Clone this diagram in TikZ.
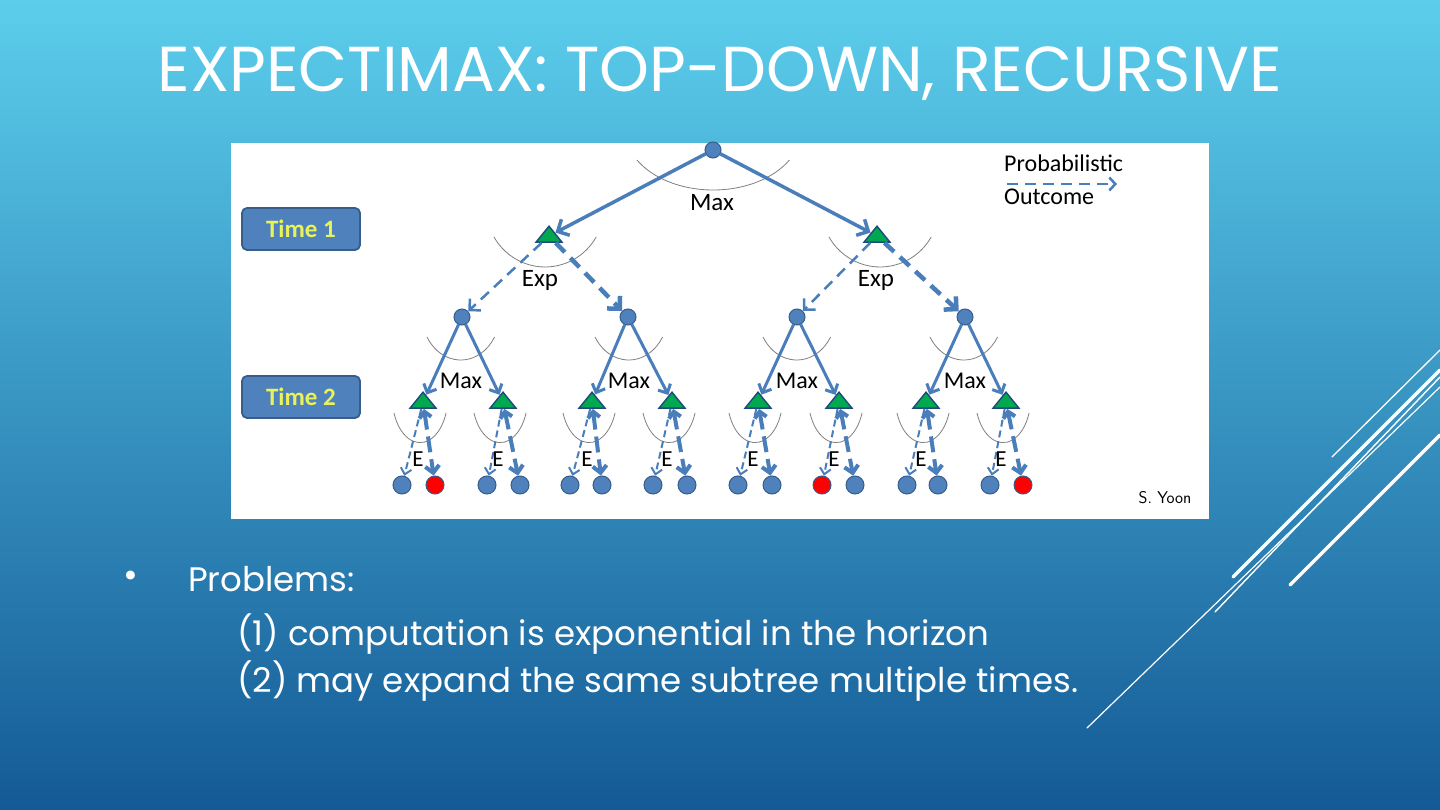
\documentclass[tikz,border=0pt]{standalone}
\usepackage{fontspec}
\setmainfont{Carlito}
\newfontfamily\gothic{Poppins}
\usetikzlibrary{arrows.meta,shapes.geometric}
\definecolor{bgtop}{RGB}{92,206,236}
\definecolor{bgmid}{RGB}{50,148,198}
\definecolor{bgbot}{RGB}{20,90,150}
\definecolor{nblue}{RGB}{79,129,189}
\definecolor{nborder}{RGB}{56,93,138}
\definecolor{lblue}{RGB}{74,126,187}
\definecolor{tgreen}{RGB}{0,168,80}
\definecolor{tborder}{RGB}{31,73,125}
\definecolor{arcgray}{RGB}{128,128,128}
\definecolor{tyellow}{RGB}{232,242,90}
\tikzset{
  circnode/.style={circle,fill=nblue,draw=nborder,line width=1pt,minimum size=16pt,inner sep=0pt},
  leafnode/.style={circle,fill=nblue,draw=nborder,line width=1pt,minimum size=18pt,inner sep=0pt},
  redleaf/.style={leafnode,fill=red},
  trinode/.style={isosceles triangle,isosceles triangle stretches,shape border rotate=90,
    fill=tgreen,draw=tborder,line width=1.4pt,minimum width=26pt,minimum height=16pt,inner sep=0pt},
  timebox/.style={rounded corners=5pt,fill=nblue,draw=nborder,line width=1.8pt,
    minimum width=118pt,minimum height=42pt,text=tyellow,font=\bfseries\fontsize{25}{25}\selectfont},
  lbl/.style={font=\fontsize{25}{25}\selectfont,text=black,inner sep=0pt},
  lblsmall/.style={font=\fontsize{24}{24}\selectfont,text=black,inner sep=0pt},
  legendtext/.style={font=\fontsize{24}{24}\selectfont,text=black,inner sep=0pt,anchor=west},
  arcline/.style={draw=arcgray,line width=0.8pt},
  solidA/.style={draw=lblue,line width=3.5pt,-{Straight Barb[length=9pt,width=18pt]}},
  dashthinA/.style={draw=lblue,line width=2.5pt,dash pattern=on 11pt off 7pt,-{Straight Barb[length=8pt,width=16pt]}},
  dashthickA/.style={draw=lblue,line width=4.5pt,dash pattern=on 13pt off 8pt,-{Straight Barb[length=9pt,width=18pt]}},
  solidB/.style={draw=lblue,line width=3pt,-{Straight Barb[length=7pt,width=14pt]}},
  dashthinB/.style={draw=lblue,line width=2pt,dash pattern=on 7pt off 4pt,-{Straight Barb[length=6pt,width=11pt]}},
  dashthickB/.style={draw=lblue,line width=4pt,dash pattern=on 16pt off 7pt,{Straight Barb[length=6pt,width=12pt]}-{Straight Barb[length=7pt,width=14pt]}},
  bodytext/.style={text=white,font=\gothic\fontsize{34}{34}\selectfont,anchor=west,inner sep=0pt},
  deco/.style={draw=white,line cap=round}
}
\begin{document}
\begin{tikzpicture}[x=1pt,y=-1pt]
\useasboundingbox (0,0) rectangle (1440,810);
\fill[top color=bgtop,middle color=bgmid,bottom color=bgbot] (0,0) rectangle (1440,810);

% title
\node[text=white,font=\gothic\fontsize{63.5}{64}\selectfont,inner sep=0pt] (title) at (720,74) {EXPECTIMAX: TOP-DOWN, RECURSIVE};

% panel
\node[fill=white,minimum width=978pt,minimum height=376pt,inner sep=0pt] (panel) at (720,331) {};

% time boxes
\node[timebox] (time1) at (301,229) {Time 1};
\node[timebox] (time2) at (301,397) {Time 2};

% arcs
\draw[arcline] (637,160) arc[start angle=210,end angle=330,x radius=88pt,y radius=60pt];
\foreach \cx in {545,880}{
  \draw[arcline] ({\cx-51},237) arc[start angle=210,end angle=330,x radius=59pt,y radius=60pt];
}
\foreach \cx in {461,629,797,964}{
  \draw[arcline] ({\cx-34},337) arc[start angle=210,end angle=330,x radius=39pt,y radius=46pt];
}
\foreach \cx in {420,500,589,669,755,836,923,1003}{
  \draw[arcline] ({\cx-26},413) arc[start angle=200,end angle=340,x radius=27.7pt,y radius=45pt];
}

% nodes
\node[circnode] (root) at (713,150) {};
\node[trinode] (ta) at (549,236) {};
\node[trinode] (tb) at (877,236) {};
\node[circnode] (c1) at (462,317) {};
\node[circnode] (c2) at (628,317) {};
\node[circnode] (c3) at (797,317) {};
\node[circnode] (c4) at (965,317) {};
\foreach \i/\x in {1/423,2/503,3/592,4/672,5/758,6/839,7/926,8/1006}{
  \node[trinode] (t\i) at (\x,402) {};
}
\node[leafnode] (l1) at (402,485) {};
\node[redleaf]  (l2) at (435,485) {};
\node[leafnode] (l3) at (487,485) {};
\node[leafnode] (l4) at (520,485) {};
\node[leafnode] (l5) at (570,485) {};
\node[leafnode] (l6) at (602,485) {};
\node[leafnode] (l7) at (653,485) {};
\node[leafnode] (l8) at (687,485) {};
\node[leafnode] (l9) at (738,485) {};
\node[leafnode] (l10) at (772,485) {};
\node[redleaf]  (l11) at (822,485) {};
\node[leafnode] (l12) at (855,485) {};
\node[leafnode] (l13) at (907,485) {};
\node[leafnode] (l14) at (938,485) {};
\node[leafnode] (l15) at (990,485) {};
\node[redleaf]  (l16) at (1023,485) {};

% connectors level 1
\draw[solidA] (root) -- (ta);
\draw[solidA] (root) -- (tb);
\draw[dashthinA] (ta) -- (c1);
\draw[dashthickA] (ta) -- (c2);
\draw[dashthinA] (tb) -- (c3);
\draw[dashthickA] (tb) -- (c4);
% level 2
\draw[solidB] (c1) -- (t1); \draw[solidB] (c1) -- (t2);
\draw[solidB] (c2) -- (t3); \draw[solidB] (c2) -- (t4);
\draw[solidB] (c3) -- (t5); \draw[solidB] (c3) -- (t6);
\draw[solidB] (c4) -- (t7); \draw[solidB] (c4) -- (t8);
% level 3
\foreach \i in {1,...,8}{
  \pgfmathtruncatemacro{\a}{2*\i-1}
  \pgfmathtruncatemacro{\b}{2*\i}
  \draw[dashthinB] (t\i) -- (l\a);
  \draw[dashthickB] (t\i) -- (l\b);
}

% labels
\node[lbl] (maxroot) at (712,203) {Max};
\node[lbl] (expa) at (540,280) {Exp};
\node[lbl] (expb) at (876,280) {Exp};
\foreach \n/\x in {1/461,2/629,3/797,4/965}{
  \node[lblsmall] (max\n) at (\x,381) {Max};
}
\foreach \i/\x in {1/418,2/498,3/587,4/667,5/753,6/834,7/921,8/1001}{
  \node[font=\fontsize{23}{23}\selectfont,text=black,inner sep=0pt] (e\i) at (\x,459) {E};
}

% legend
\node[legendtext] (prob) at (1004,163) {Probabilistic};
\node[legendtext] (outc) at (1004,197) {Outcome};
\coordinate (legs) at (1007,184);
\coordinate (lege) at (1117,184);
\draw[draw=lblue,line width=2.5pt,dash pattern=on 11pt off 7pt,-{Straight Barb[length=6pt,width=13pt]}] (legs) -- (lege);

\node[font=\sffamily\fontsize{17}{17}\selectfont,text=black,inner sep=0pt] (yoon) at (1165,498) {S.\ Yoon};

% body text
\node[text=white,font=\gothic\fontsize{36}{36}\selectfont,inner sep=0pt] (bullet) at (131,579) {•};
\node[bodytext] (problems) at (188,579) {Problems:};
\node[bodytext] (line1) at (237,634) {(1) computation is exponential in the horizon};
\node[bodytext] (line2) at (237,681) {(2) may expand the same subtree multiple times.};

% decorative lines
\draw[deco,line width=1.3pt] (1332,457) -- (1440,350);
\draw[deco,line width=3.5pt] (1233,577) -- (1440,370);
\draw[deco,line width=1.4pt] (1215,612) -- (1440,377);
\draw[deco,line width=1.2pt] (1087,728) -- (1440,387);
\draw[deco,line width=3.5pt] (1290,585) -- (1440,435);
\end{tikzpicture}
\end{document}
